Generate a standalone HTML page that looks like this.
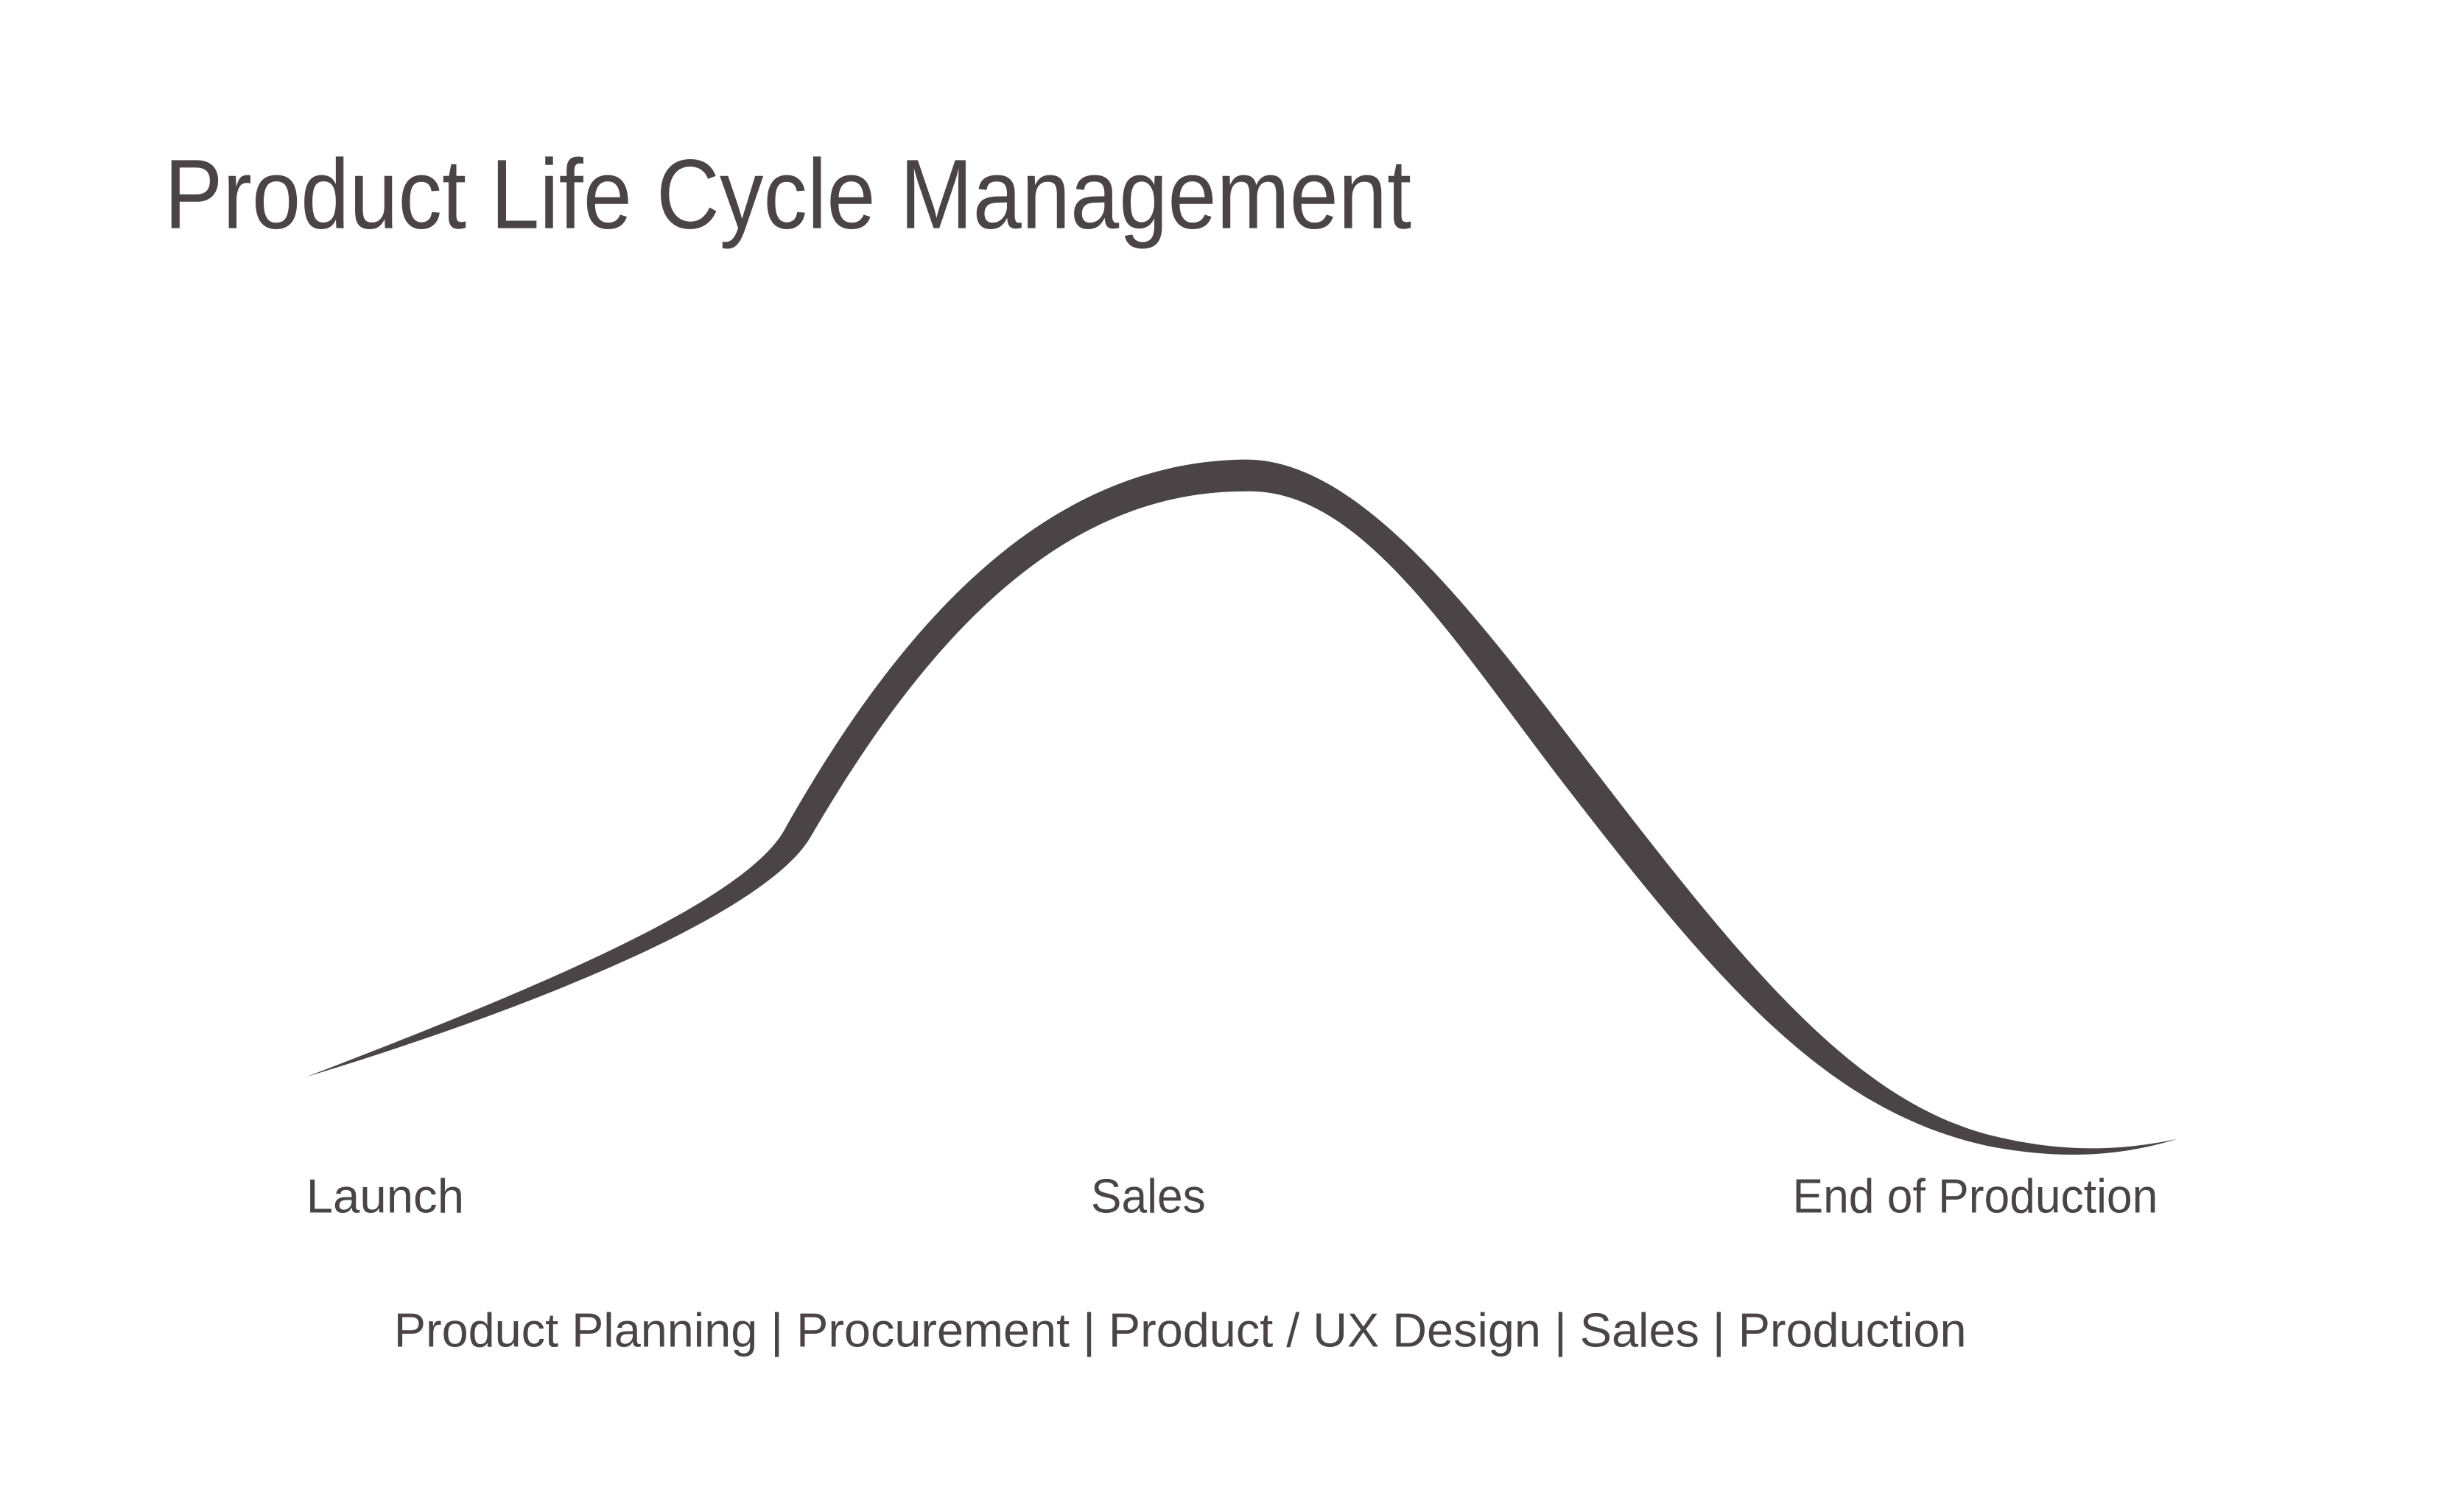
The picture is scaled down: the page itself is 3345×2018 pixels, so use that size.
<!DOCTYPE html>
<html><head><meta charset="utf-8"><style>
html,body{margin:0;padding:0;background:#fff;}
svg{display:block;}
text{font-family:"Liberation Sans",sans-serif;fill:#4a4446;}
</style></head><body>
<svg width="3345" height="2018" viewBox="0 0 1545 932" xmlns="http://www.w3.org/2000/svg">
<rect width="1545" height="932" fill="#fff"/>
<text x="103" y="143" font-size="62" textLength="782" lengthAdjust="spacingAndGlyphs">Product Life Cycle Management</text>
<path fill="#4a4446" d="M192,675
 C330,622 470,565 493,518
 C560,400 650,290 780,288
 C850,287 920,378 990,470
 C1090,600 1160,690 1250,712
 C1300,724 1335,720 1365,714
 C1335,723 1300,728 1250,719
 C1145,698 1075,614 975,484
 C905,392 850,305 780,308
 C660,308 575,410 508,525
 C480,572 340,630 192,675 Z"/>
<text x="192" y="760" font-size="30" textLength="99" lengthAdjust="spacingAndGlyphs">Launch</text>
<text x="684" y="760" font-size="30" textLength="72" lengthAdjust="spacingAndGlyphs">Sales</text>
<text x="1124" y="760" font-size="30" textLength="229" lengthAdjust="spacingAndGlyphs">End of Production</text>
<text x="247" y="844" font-size="30" textLength="986" lengthAdjust="spacingAndGlyphs">Product Planning | Procurement | Product / UX Design | Sales | Production</text>
</svg>
</body></html>
